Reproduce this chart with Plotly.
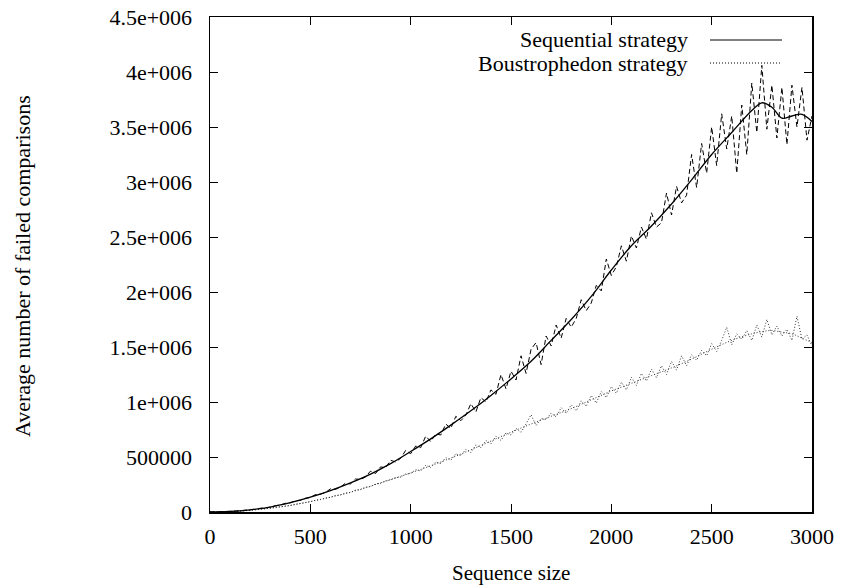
import plotly.graph_objects as go

# ---------------- data (thousands of comparisons) ----------------
raw_x = list(range(0, 3001, 25))

seq_raw_k = [0, 0.3, 1.3, 2.6, 5.4, 7.6, 11.8, 14.2,
             21, 25, 34, 37, 44, 57, 63, 79,
             83, 102, 106, 125, 131, 158, 162, 176,
             210, 205, 226, 262, 255, 300, 296, 318,
             372, 350, 410, 402, 470, 455, 488, 560,
             530, 600, 585, 690, 640, 710, 700, 800,
             760, 870, 830, 880, 985, 910, 1040, 1000,
             1110, 1070, 1250, 1120, 1280, 1200, 1420, 1260,
             1480, 1540, 1340, 1600, 1510, 1700, 1580, 1760,
             1680, 1760, 1930, 1830, 1900, 2060, 2010, 2300,
             2150, 2230, 2420, 2280, 2510, 2400, 2590, 2480,
             2720, 2590, 2630, 2900, 2700, 2960, 2810, 2880,
             3250, 2950, 3350, 3080, 3500, 3150, 3620, 3300,
             3600, 3080, 3700, 3250, 3900, 3450, 4060, 3480,
             3880, 3400, 3860, 3340, 3880, 3500, 3860, 3380,
             3600]

bou_raw_k = [0, 0.3, 1.1, 2.2, 4.3, 6.3, 9.2, 12.4,
             15.4, 20.6, 24.2, 31, 34.5, 42, 46, 55,
             59, 70, 77, 88, 93, 107, 113, 127,
             133, 150, 155, 172, 177, 200, 203, 226,
             230, 256, 261, 283, 292, 312, 317, 345,
             350, 385, 372, 425, 405, 455, 440, 495,
             470, 530, 512, 570, 540, 610, 585, 650,
             620, 690, 650, 720, 700, 760, 725, 800,
             885, 785, 850, 840, 900, 865, 950, 895,
             975, 920, 1010, 960, 1060, 990, 1095, 1040,
             1140, 1080, 1180, 1110, 1225, 1150, 1260, 1190,
             1300, 1220, 1330, 1250, 1370, 1290, 1420, 1330,
             1430, 1380, 1470, 1420, 1530, 1460, 1560, 1680,
             1520, 1620, 1570, 1650, 1560, 1700, 1590, 1750,
             1610, 1690, 1600, 1660, 1560, 1780, 1570, 1610,
             1510]

smooth_x = [0, 100, 200, 300, 400, 500, 600, 700, 800, 900, 1000, 1100, 1200, 1300, 1400,
            1500, 1600, 1700, 1800, 1900, 2000, 2100, 2200, 2300, 2400, 2500, 2600, 2700,
            2750, 2800, 2850, 2900, 2950, 3000]
seq_smooth_k = [0, 5, 20, 45, 85, 135, 195, 265, 345, 440, 550, 665, 790, 920, 1060,
                1210, 1370, 1560, 1750, 1960, 2200, 2420, 2600, 2800, 3020, 3250, 3450, 3650,
                3720, 3680, 3580, 3600, 3615, 3550]
bou_smooth_k = [0, 4, 15, 35, 60, 95, 135, 180, 235, 295, 355, 420, 490, 565, 645,
                725, 800, 870, 940, 1020, 1100, 1170, 1240, 1310, 1390, 1480, 1560, 1620,
                1640, 1650, 1635, 1620, 1580, 1540]

x_ticks = [0, 500, 1000, 1500, 2000, 2500, 3000]
y_ticks = [0, 500000, 1000000, 1500000, 2000000, 2500000, 3000000, 3500000, 4000000, 4500000]
y_tick_text = ["0", "500000", "1e+006", "1.5e+006", "2e+006", "2.5e+006", "3e+006",
               "3.5e+006", "4e+006", "4.5e+006"]

seq_raw = [v * 1000 for v in seq_raw_k]
bou_raw = [v * 1000 for v in bou_raw_k]
seq_smooth = [v * 1000 for v in seq_smooth_k]
bou_smooth = [v * 1000 for v in bou_smooth_k]

FONT = "Liberation Serif"
FS = 22
fig = go.Figure()
fig.add_trace(go.Scatter(x=raw_x, y=seq_raw, mode="lines", showlegend=False,
                         line=dict(color="black", width=1, dash="5px,3px")))
fig.add_trace(go.Scatter(x=raw_x, y=bou_raw, mode="lines", showlegend=False,
                         line=dict(color="#333333", width=1, dash="1px,2px")))
fig.add_trace(go.Scatter(x=smooth_x, y=bou_smooth, mode="lines", showlegend=False,
                         line=dict(color="#333333", width=1, dash="1px,2px", shape="spline")))
fig.add_trace(go.Scatter(x=smooth_x, y=seq_smooth, mode="lines", showlegend=False,
                         line=dict(color="black", width=1.3, shape="spline")))

axis_common = dict(showline=True, linecolor="black", linewidth=1.5, mirror="ticks",
                   ticks="inside", ticklen=8, tickwidth=1, tickcolor="black",
                   showgrid=False, zeroline=False, automargin=False,
                   ticklabeloverflow="allow",
                   tickfont=dict(family=FONT, size=FS, color="black"))
fig.update_xaxes(range=[0, 3000], tickvals=x_ticks, ticklabelstandoff=4, **axis_common)
fig.update_yaxes(range=[0, 4500000], tickvals=y_ticks, ticktext=y_tick_text,
                 ticklabelstandoff=12, **axis_common)

# plot area (page pixels): left 210, right 812, top 17, bottom 512
def px2paper(px, py):
    return (px - 210) / 602, (512 - py) / 495

annots = []
shapes = []
for label, py, dash in [("Sequential strategy", 40, "solid"),
                        ("Boustrophedon strategy", 63, "1px,2px")]:
    tx, ty = px2paper(690, py)
    annots.append(dict(x=tx, y=ty, xref="paper", yref="paper", text=label, showarrow=False,
                       xanchor="right", yanchor="middle",
                       font=dict(family=FONT, size=FS, color="black")))
    x0, _ = px2paper(710, py)
    x1, _ = px2paper(782, py)
    shapes.append(dict(type="line", xref="paper", yref="paper", x0=x0, x1=x1, y0=ty, y1=ty,
                       line=dict(color="black", width=1, dash=dash)))

ax, ay = px2paper(22, 266)
annots.append(dict(x=ax, y=ay, xref="paper", yref="paper", text="Average number of failed comparisons",
                   textangle=-90, showarrow=False, xanchor="center", yanchor="middle",
                   font=dict(family=FONT, size=22, color="black")))
bx, by = px2paper(511, 573)
annots.append(dict(x=bx, y=by, xref="paper", yref="paper", text="Sequence size",
                   showarrow=False, xanchor="center", yanchor="middle",
                   font=dict(family=FONT, size=21, color="black")))

fig.update_layout(width=841, height=587, margin=dict(l=210, r=29, t=17, b=75),
                  paper_bgcolor="white", plot_bgcolor="white", showlegend=False,
                  hovermode=False, annotations=annots, shapes=shapes)
fig.write_html("out.html", config={"displayModeBar": False, "staticPlot": True},
               post_script="document.body.style.margin='0';")
